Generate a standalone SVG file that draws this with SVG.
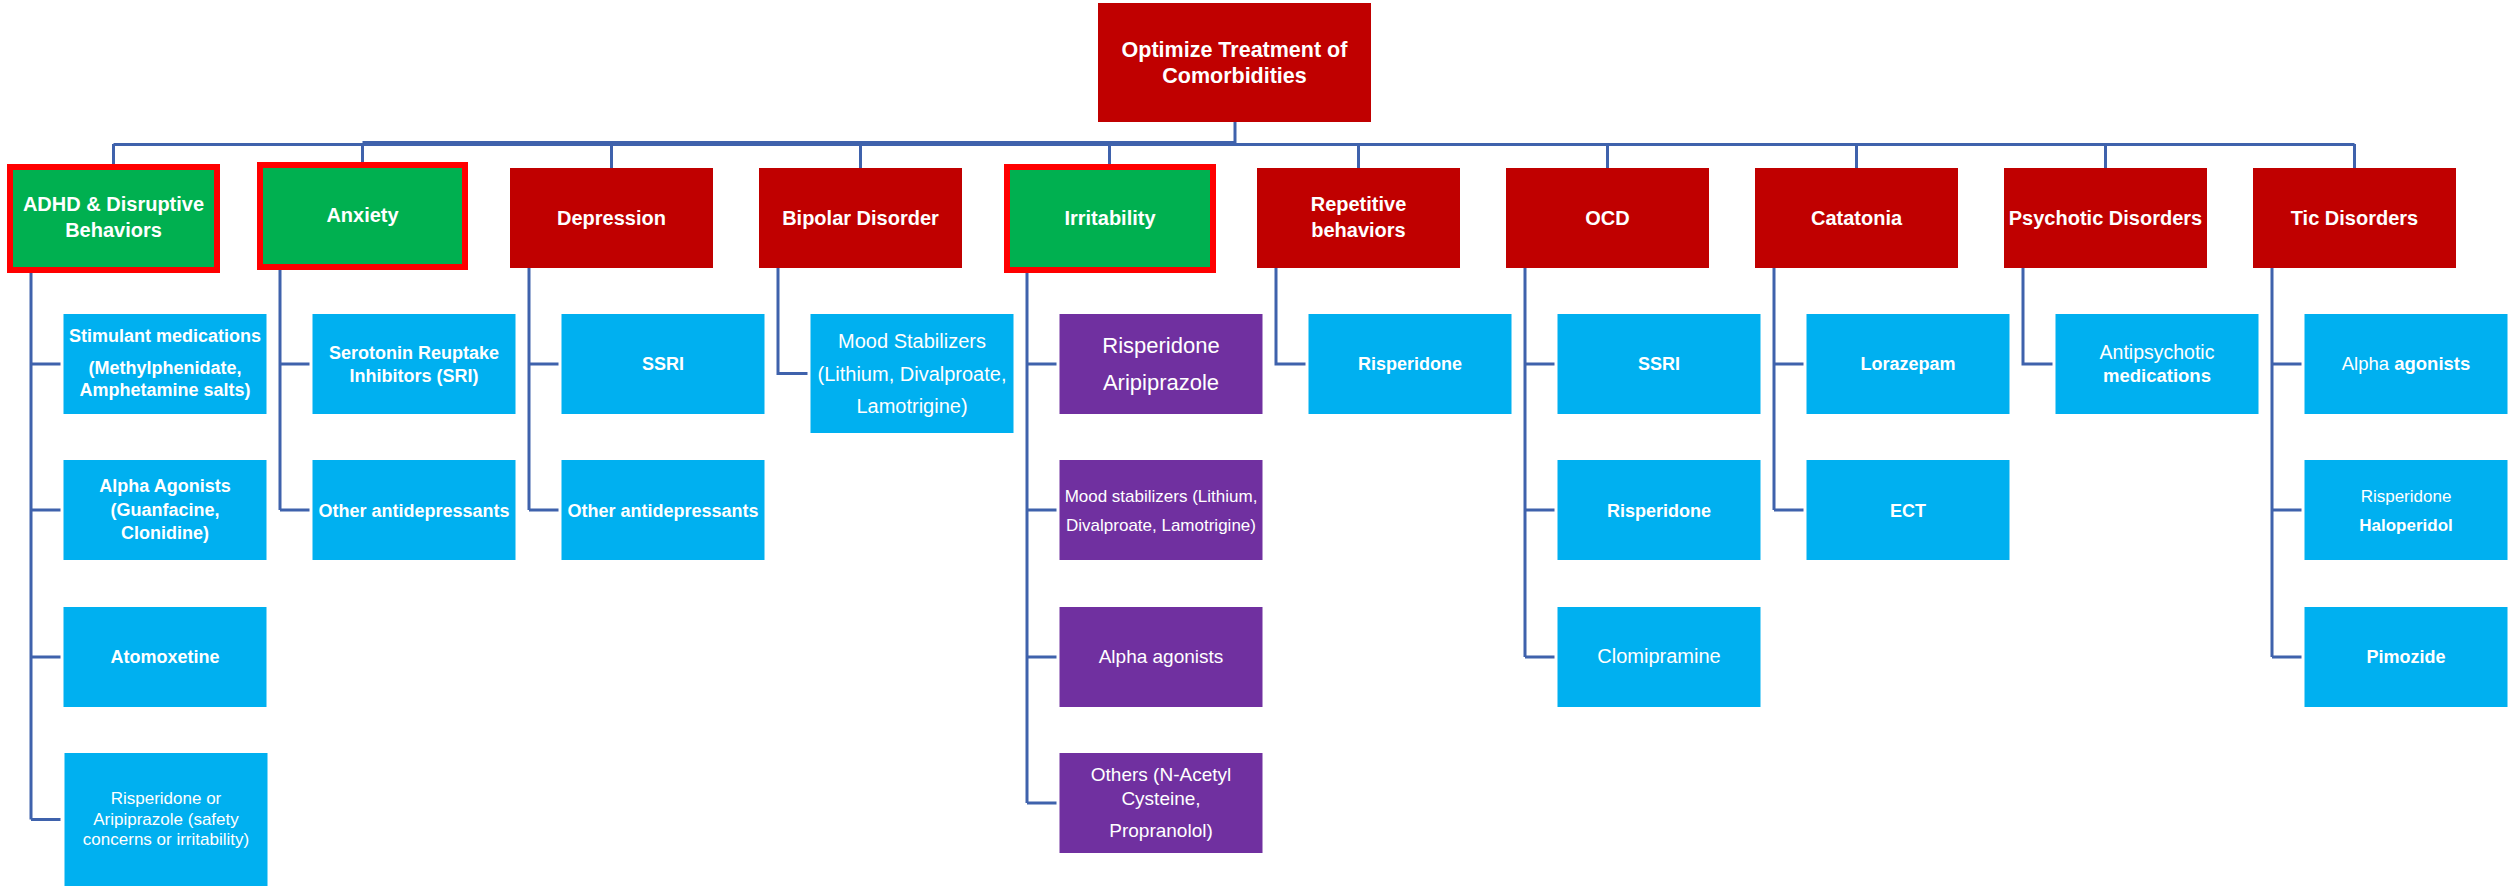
<svg xmlns="http://www.w3.org/2000/svg" width="2509" height="886" viewBox="0 0 2509 886">
  <style>
    .root { fill: #C00000; }
    .cat { fill: #C00000; }
    .hl { fill: #00B050; stroke: #FF0000; stroke-width: 6; }
    .tx { fill: #00B0F0; }
    .pu { fill: #7030A0; }
    text { font-family: "Liberation Sans", Arial, sans-serif; fill: #FFFFFF; text-anchor: middle; }
    .b { font-weight: bold; }
    .h1 { font-size: 21.5px; font-weight: bold; }
    .h2 { font-size: 20px; font-weight: bold; }
    .c18 { font-size: 18px; font-weight: bold; }
    .conn path { stroke: #3F62AC; stroke-width: 3; fill: none; }
  </style>
  <rect width="2509" height="886" fill="#FFFFFF"/>

  <!-- connectors -->
  <g id="connectors" class="conn">
    <path d="M1235,122 V144"/>
    <path d="M113.5,144.5 H2354.5"/>
    <path d="M362.5,143.5 H1235" style="stroke-width:5"/>
    <path d="M113.5,144 V164 M362.5,144 V162 M611.5,144 V168 M860.5,144 V168 M1109.5,144 V164 M1358.5,144 V168 M1607.5,144 V168 M1856.5,144 V168 M2105.5,144 V168 M2354.5,144 V168"/>
    <path d="M31,273 V819.5 M31,364 H60.5 M31,510 H60.5 M31,657 H60.5 M31,819.5 H60.5"/>
    <path d="M280,270 V510 M280,364 H309.5 M280,510 H309.5"/>
    <path d="M529,268 V510 M529,364 H558.5 M529,510 H558.5"/>
    <path d="M778,268 V373.5 H807.5"/>
    <path d="M1027,273 V803 M1027,364 H1056.5 M1027,510 H1056.5 M1027,657 H1056.5 M1027,803 H1056.5"/>
    <path d="M1276,268 V364 H1305.5"/>
    <path d="M1525,268 V657 M1525,364 H1554.5 M1525,510 H1554.5 M1525,657 H1554.5"/>
    <path d="M1774,268 V510 M1774,364 H1803.5 M1774,510 H1803.5"/>
    <path d="M2023,268 V364 H2052.5"/>
    <path d="M2272,268 V657 M2272,364 H2301.5 M2272,510 H2301.5 M2272,657 H2301.5"/>
  </g>

  <!-- root -->
  <g id="root">
    <rect class="root" x="1098" y="3" width="273" height="119"/>
    <text class="h1" x="1234.5" y="57">Optimize Treatment of</text>
    <text class="h1" x="1234.5" y="83">Comorbidities</text>
  </g>

  <!-- categories -->
  <g id="adhd">
    <rect class="hl" x="10" y="167" width="207" height="103"/>
    <text class="h2" x="113.5" y="211">ADHD &amp; Disruptive</text>
    <text class="h2" x="113.5" y="237">Behaviors</text>
  </g>
  <g id="anxiety">
    <rect class="hl" x="260" y="165" width="205" height="102"/>
    <text class="h2" x="362.5" y="222">Anxiety</text>
  </g>
  <g id="depression">
    <rect class="cat" x="510" y="168" width="203" height="100"/>
    <text class="h2" x="611.5" y="225">Depression</text>
  </g>
  <g id="bipolar">
    <rect class="cat" x="759" y="168" width="203" height="100"/>
    <text class="h2" x="860.5" y="225">Bipolar Disorder</text>
  </g>
  <g id="irritability">
    <rect class="hl" x="1007" y="167" width="206" height="103"/>
    <text class="h2" x="1110" y="225">Irritability</text>
  </g>
  <g id="repetitive">
    <rect class="cat" x="1257" y="168" width="203" height="100"/>
    <text class="h2" x="1358.5" y="211">Repetitive</text>
    <text class="h2" x="1358.5" y="237">behaviors</text>
  </g>
  <g id="ocd">
    <rect class="cat" x="1506" y="168" width="203" height="100"/>
    <text class="h2" x="1607.5" y="225">OCD</text>
  </g>
  <g id="catatonia">
    <rect class="cat" x="1755" y="168" width="203" height="100"/>
    <text class="h2" x="1856.5" y="225">Catatonia</text>
  </g>
  <g id="psychotic">
    <rect class="cat" x="2004" y="168" width="203" height="100"/>
    <text class="h2" x="2105.5" y="225">Psychotic Disorders</text>
  </g>
  <g id="tic">
    <rect class="cat" x="2253" y="168" width="203" height="100"/>
    <text class="h2" x="2354.5" y="225">Tic Disorders</text>
  </g>

  <!-- ADHD treatments -->
  <g id="adhd-stimulants">
    <rect class="tx" x="63.5" y="314" width="203" height="100"/>
    <text class="c18" x="165" y="342">Stimulant medications</text>
    <text class="c18" x="165" y="374">(Methylphenidate,</text>
    <text class="c18" x="165" y="396">Amphetamine salts)</text>
  </g>
  <g id="adhd-alpha">
    <rect class="tx" x="63.5" y="460" width="203" height="100"/>
    <text class="c18" x="165" y="492">Alpha Agonists</text>
    <text class="c18" x="165" y="515.5">(Guanfacine,</text>
    <text class="c18" x="165" y="539">Clonidine)</text>
  </g>
  <g id="adhd-atomoxetine">
    <rect class="tx" x="63.5" y="607" width="203" height="100"/>
    <text class="c18" x="165" y="663">Atomoxetine</text>
  </g>
  <g id="adhd-antipsychotic">
    <rect class="tx" x="64.5" y="753" width="203" height="133"/>
    <text x="166" y="804" font-size="17">Risperidone or</text>
    <text x="166" y="824.5" font-size="17">Aripiprazole (safety</text>
    <text x="166" y="845" font-size="17">concerns or irritability)</text>
  </g>

  <!-- Anxiety treatments -->
  <g id="anxiety-sri">
    <rect class="tx" x="312.5" y="314" width="203" height="100"/>
    <text class="c18" x="414" y="359">Serotonin Reuptake</text>
    <text class="c18" x="414" y="382">Inhibitors (SRI)</text>
  </g>
  <g id="anxiety-other">
    <rect class="tx" x="312.5" y="460" width="203" height="100"/>
    <text class="c18" x="414" y="516.5">Other antidepressants</text>
  </g>

  <!-- Depression treatments -->
  <g id="depression-ssri">
    <rect class="tx" x="561.5" y="314" width="203" height="100"/>
    <text class="c18" x="663" y="370">SSRI</text>
  </g>
  <g id="depression-other">
    <rect class="tx" x="561.5" y="460" width="203" height="100"/>
    <text class="c18" x="663" y="516.5">Other antidepressants</text>
  </g>

  <!-- Bipolar treatments -->
  <g id="bipolar-mood">
    <rect class="tx" x="810.5" y="314" width="203" height="119"/>
    <text x="912" y="348" font-size="20">Mood Stabilizers</text>
    <text x="912" y="380.5" font-size="20">(Lithium, Divalproate,</text>
    <text x="912" y="413" font-size="20">Lamotrigine)</text>
  </g>

  <!-- Irritability treatments -->
  <g id="irritability-antipsychotic">
    <rect class="pu" x="1059.5" y="314" width="203" height="100"/>
    <text x="1161" y="353" font-size="22">Risperidone</text>
    <text x="1161" y="390" font-size="22">Aripiprazole</text>
  </g>
  <g id="irritability-mood">
    <rect class="pu" x="1059.5" y="460" width="203" height="100"/>
    <text x="1161" y="502" font-size="17">Mood stabilizers (Lithium,</text>
    <text x="1161" y="530.5" font-size="17">Divalproate, Lamotrigine)</text>
  </g>
  <g id="irritability-alpha">
    <rect class="pu" x="1059.5" y="607" width="203" height="100"/>
    <text x="1161" y="663" font-size="19">Alpha agonists</text>
  </g>
  <g id="irritability-others">
    <rect class="pu" x="1059.5" y="753" width="203" height="100"/>
    <text x="1161" y="780.5" font-size="19">Others (N-Acetyl</text>
    <text x="1161" y="804.5" font-size="19">Cysteine,</text>
    <text x="1161" y="836.5" font-size="19">Propranolol)</text>
  </g>

  <!-- Repetitive behaviors treatment -->
  <g id="repetitive-risperidone">
    <rect class="tx" x="1308.5" y="314" width="203" height="100"/>
    <text class="c18" x="1410" y="370">Risperidone</text>
  </g>

  <!-- OCD treatments -->
  <g id="ocd-ssri">
    <rect class="tx" x="1557.5" y="314" width="203" height="100"/>
    <text class="c18" x="1659" y="370">SSRI</text>
  </g>
  <g id="ocd-risperidone">
    <rect class="tx" x="1557.5" y="460" width="203" height="100"/>
    <text class="c18" x="1659" y="516.5">Risperidone</text>
  </g>
  <g id="ocd-clomipramine">
    <rect class="tx" x="1557.5" y="607" width="203" height="100"/>
    <text x="1659" y="663" font-size="20">Clomipramine</text>
  </g>

  <!-- Catatonia treatments -->
  <g id="catatonia-lorazepam">
    <rect class="tx" x="1806.5" y="314" width="203" height="100"/>
    <text class="c18" x="1908" y="370">Lorazepam</text>
  </g>
  <g id="catatonia-ect">
    <rect class="tx" x="1806.5" y="460" width="203" height="100"/>
    <text class="c18" x="1908" y="516.5">ECT</text>
  </g>

  <!-- Psychotic disorders treatment -->
  <g id="psychotic-antipsychotic">
    <rect class="tx" x="2055.5" y="314" width="203" height="100"/>
    <text x="2157" y="359" font-size="19.5">Antipsychotic</text>
    <text class="b" x="2157" y="382" font-size="18.5">medications</text>
  </g>

  <!-- Tic disorders treatments -->
  <g id="tic-alpha">
    <rect class="tx" x="2304.5" y="314" width="203" height="100"/>
    <text x="2406" y="370" font-size="18.5">Alpha <tspan class="b">agonists</tspan></text>
  </g>
  <g id="tic-antipsychotic">
    <rect class="tx" x="2304.5" y="460" width="203" height="100"/>
    <text x="2406" y="502" font-size="17">Risperidone</text>
    <text class="b" x="2406" y="530.5" font-size="17">Haloperidol</text>
  </g>
  <g id="tic-pimozide">
    <rect class="tx" x="2304.5" y="607" width="203" height="100"/>
    <text class="c18" x="2406" y="663">Pimozide</text>
  </g>
</svg>
